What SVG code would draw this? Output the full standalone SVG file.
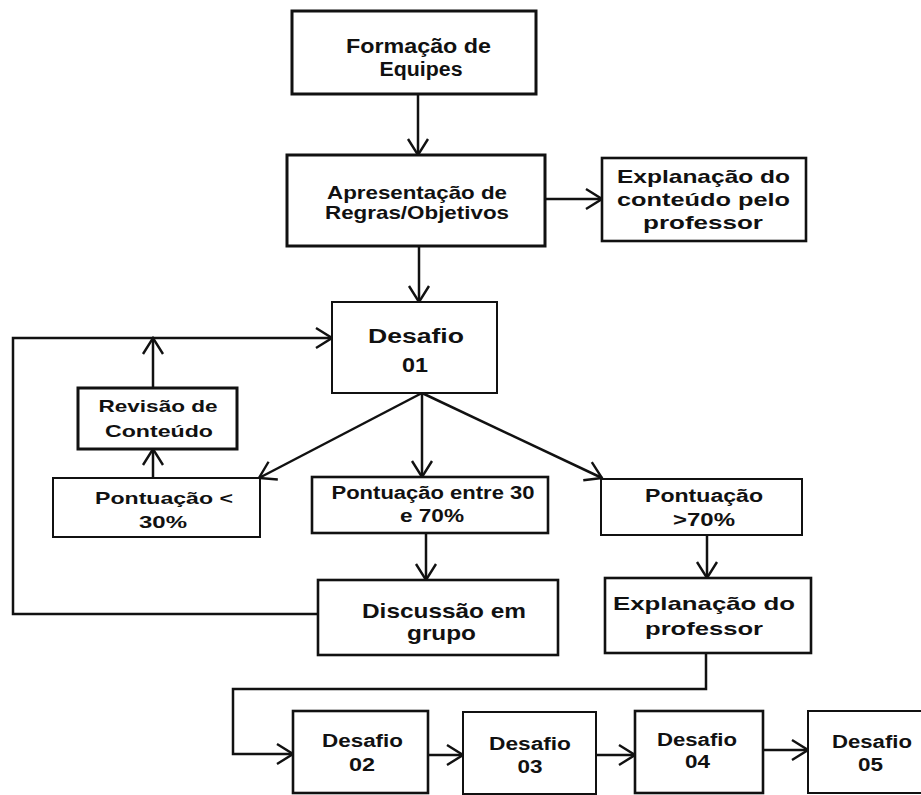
<svg xmlns="http://www.w3.org/2000/svg" width="921" height="795" viewBox="0 0 921 795">
<defs>
<marker id="v" markerUnits="userSpaceOnUse" markerWidth="20" markerHeight="24" viewBox="-2 -2 20 24" refX="16" refY="10" orient="auto">
<path d="M0,0 L16,10 L0,20" fill="none" stroke="#111" stroke-width="2.4"/>
</marker>
</defs>
<style>
rect{fill:#fff;stroke:#111;stroke-width:2.6}
rect.thin{stroke-width:2}
text{font-family:"Liberation Sans",Arial,sans-serif;font-weight:bold;fill:#111;text-anchor:middle}
.c{fill:none;stroke:#111;stroke-width:2.5}
.a{marker-end:url(#v)}
</style>
<rect x="0" y="0" width="921" height="795" style="fill:#fff;stroke:none"/>

<g id="connectors">
<path class="c a" d="M418,94 V155"/>
<path class="c a" d="M545,199 H602"/>
<path class="c a" d="M419,246 V302"/>
<path class="c a" d="M318,614 H13 V338 H332"/>
<path class="c a" d="M153,388 V338"/>
<path class="c a" d="M153,478 V449"/>
<path class="c a" d="M422,393 L259,478"/>
<path class="c a" d="M422,393 V477"/>
<path class="c a" d="M422,393 L602,478"/>
<path class="c a" d="M426,533 V580"/>
<path class="c a" d="M707,535 V578"/>
<path class="c a" d="M706,653 V689 H233 V754 H293"/>
<path class="c a" d="M428,755 H463"/>
<path class="c a" d="M596,755 H635"/>
<path class="c a" d="M763,750 H808"/>
</g>

<g id="formacao">
<rect x="292" y="11" width="244" height="83" style="stroke-width:3"/>
<text x="418.5" y="53" font-size="20" textLength="145" lengthAdjust="spacingAndGlyphs">Formação de</text>
<text x="421" y="76" font-size="20" textLength="83" lengthAdjust="spacingAndGlyphs">Equipes</text>
</g>

<g id="apresentacao">
<rect x="287" y="155" width="258" height="91" style="stroke-width:3"/>
<text x="417" y="199" font-size="19" textLength="180" lengthAdjust="spacingAndGlyphs">Apresentação de</text>
<text x="417" y="219" font-size="19" textLength="184" lengthAdjust="spacingAndGlyphs">Regras/Objetivos</text>
</g>

<g id="explanacao-conteudo">
<rect x="602" y="158" width="204" height="83"/>
<text x="703.5" y="183" font-size="18.5" textLength="173" lengthAdjust="spacingAndGlyphs">Explanação do</text>
<text x="703.5" y="206" font-size="18.5" textLength="173" lengthAdjust="spacingAndGlyphs">conteúdo pelo</text>
<text x="703" y="229" font-size="18.5" textLength="120" lengthAdjust="spacingAndGlyphs">professor</text>
</g>

<g id="desafio01">
<rect class="thin" x="332" y="302" width="165" height="91"/>
<text x="416" y="343" font-size="19.5" textLength="96" lengthAdjust="spacingAndGlyphs">Desafio</text>
<text x="415" y="372" font-size="19.5" textLength="26" lengthAdjust="spacingAndGlyphs">01</text>
</g>

<g id="revisao">
<rect x="78" y="388" width="159" height="61" style="stroke-width:3"/>
<text x="158" y="412" font-size="16.5" textLength="119" lengthAdjust="spacingAndGlyphs">Revisão de</text>
<text x="159" y="437" font-size="16.5" textLength="108" lengthAdjust="spacingAndGlyphs">Conteúdo</text>
</g>

<g id="pont-menor30">
<rect class="thin" x="53" y="478" width="207" height="59"/>
<text x="164" y="504" font-size="17" textLength="138" lengthAdjust="spacingAndGlyphs">Pontuação &lt;</text>
<text x="163" y="528" font-size="17" textLength="48" lengthAdjust="spacingAndGlyphs">30%</text>
</g>

<g id="pont-30-70">
<rect x="312" y="477" width="236" height="56"/>
<text x="433" y="499" font-size="17.5" textLength="203" lengthAdjust="spacingAndGlyphs">Pontuação entre 30</text>
<text x="432" y="522" font-size="17.5" textLength="64" lengthAdjust="spacingAndGlyphs">e 70%</text>
</g>

<g id="pont-maior70">
<rect class="thin" x="601" y="479" width="201" height="56"/>
<text x="704" y="502" font-size="18" textLength="118" lengthAdjust="spacingAndGlyphs">Pontuação</text>
<text x="704" y="526" font-size="18" textLength="62" lengthAdjust="spacingAndGlyphs">&gt;70%</text>
</g>

<g id="discussao">
<rect x="318" y="580" width="240" height="75"/>
<text x="444" y="618" font-size="21" textLength="164" lengthAdjust="spacingAndGlyphs">Discussão em</text>
<text x="441.5" y="640" font-size="21" textLength="69" lengthAdjust="spacingAndGlyphs">grupo</text>
</g>

<g id="explanacao-professor">
<rect x="605" y="578" width="206" height="75"/>
<text x="704" y="610" font-size="19" textLength="182" lengthAdjust="spacingAndGlyphs">Explanação do</text>
<text x="704" y="635" font-size="19" textLength="118" lengthAdjust="spacingAndGlyphs">professor</text>
</g>

<g id="desafio02">
<rect x="293" y="711" width="135" height="82"/>
<text x="362.5" y="747" font-size="18" textLength="81" lengthAdjust="spacingAndGlyphs">Desafio</text>
<text x="362" y="771" font-size="18" textLength="26" lengthAdjust="spacingAndGlyphs">02</text>
</g>

<g id="desafio03">
<rect class="thin" x="463" y="712" width="133" height="82"/>
<text x="530" y="750" font-size="18" textLength="82" lengthAdjust="spacingAndGlyphs">Desafio</text>
<text x="530" y="773" font-size="18" textLength="25" lengthAdjust="spacingAndGlyphs">03</text>
</g>

<g id="desafio04">
<rect x="635" y="711" width="128" height="82"/>
<text x="697" y="746" font-size="18" textLength="80" lengthAdjust="spacingAndGlyphs">Desafio</text>
<text x="697.5" y="768" font-size="18" textLength="25" lengthAdjust="spacingAndGlyphs">04</text>
</g>

<g id="desafio05">
<rect class="thin" x="808" y="711" width="130" height="82"/>
<text x="872" y="748" font-size="18" textLength="80" lengthAdjust="spacingAndGlyphs">Desafio</text>
<text x="870.5" y="771" font-size="18" textLength="25" lengthAdjust="spacingAndGlyphs">05</text>
</g>
</svg>
